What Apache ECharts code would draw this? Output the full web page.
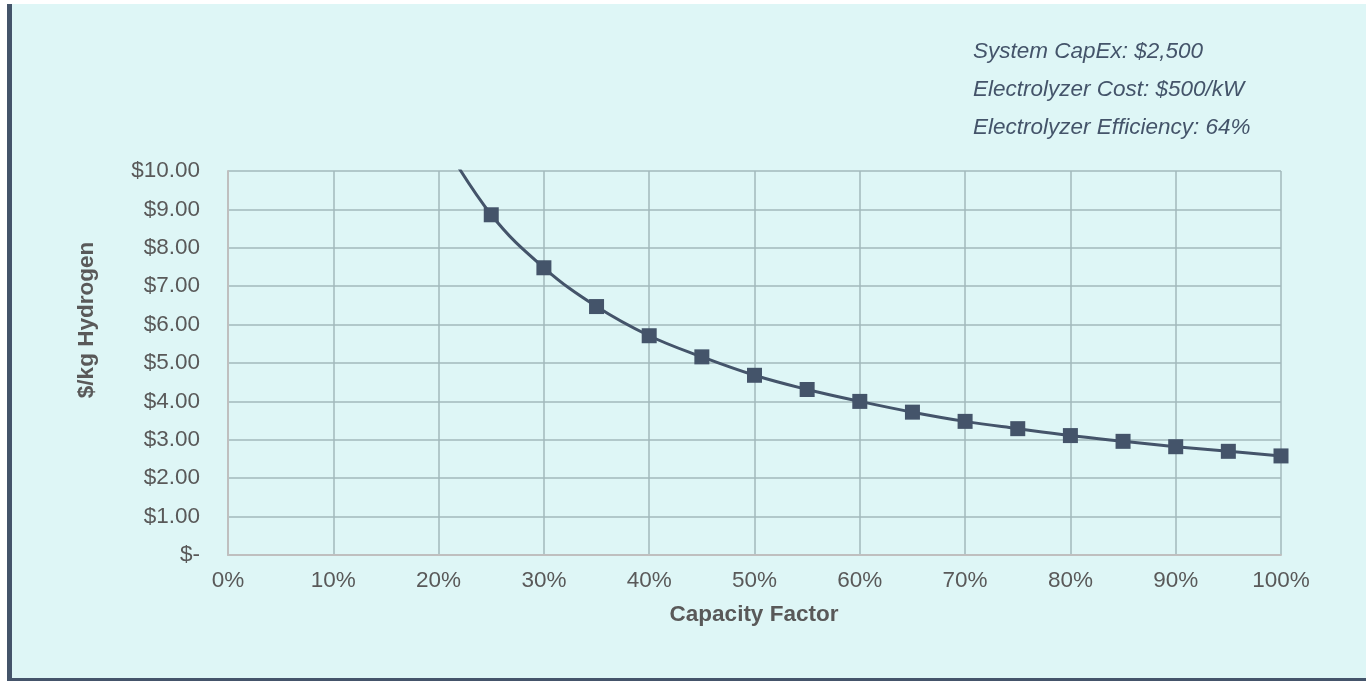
<!DOCTYPE html>
<html>
<head>
<meta charset="utf-8">
<script src="https://cdn.jsdelivr.net/npm/echarts@6/dist/echarts.min.js"></script>
<style>
html,body{margin:0;padding:0;background:#ffffff;}
#chart{width:1369px;height:681px;}
</style>
</head>
<body>
<div id="chart"></div>
<script>
const capacityFactor = [20, 25, 30, 35, 40, 45, 50, 55, 60, 65, 70, 75, 80, 85, 90, 95, 100];
const costPerKg = [10.95, 8.86, 7.48, 6.47, 5.71, 5.16, 4.68, 4.31, 4.00, 3.72, 3.48, 3.29, 3.11, 2.96, 2.82, 2.70, 2.58];
const xTicks = [0, 10, 20, 30, 40, 50, 60, 70, 80, 90, 100];
const yTicks = [0, 1, 2, 3, 4, 5, 6, 7, 8, 9, 10];
const notes = ['System CapEx: $2,500', 'Electrolyzer Cost: $500/kW', 'Electrolyzer Efficiency: 64%'];
const xTitle = 'Capacity Factor';
const yTitle = '$/kg Hydrogen';

const chart = echarts.init(document.getElementById('chart'));
const font = 'Liberation Sans, Arial, sans-serif';
const fs = 22.5;
const option = {
  backgroundColor: '#ffffff',
  animation: false,
  graphic: [
    { type: 'rect', z: -10, shape: { x: 7, y: 4, width: 1359, height: 677 }, style: { fill: '#def6f6' } },
    { type: 'rect', z: -9, shape: { x: 7, y: 4, width: 5, height: 677 }, style: { fill: '#44546a' } },
    { type: 'rect', z: -9, shape: { x: 7, y: 678, width: 1359, height: 3 }, style: { fill: '#44546a' } },
    ...notes.map((t, i) => ({
      type: 'text', x: 973, y: 52 + i * 38,
      style: { text: t, font: 'italic ' + fs + 'px ' + font, fill: '#44546a', verticalAlign: 'middle', align: 'left' }
    })),
    { type: 'text', x: 87, y: 320, rotation: Math.PI / 2,
      style: { text: yTitle, font: 'bold ' + fs + 'px ' + font, fill: '#595959', align: 'center', verticalAlign: 'middle' } },
    { type: 'text', x: 754, y: 615,
      style: { text: xTitle, font: 'bold ' + fs + 'px ' + font, fill: '#595959', align: 'center', verticalAlign: 'middle' } }
  ],
  grid: { left: 228, right: 88, top: 171, bottom: 126, containLabel: false },
  xAxis: {
    type: 'value', min: 0, max: 100, interval: 10,
    axisLine: { show: true, lineStyle: { color: '#bfbfbf', width: 2 } },
    axisTick: { show: false },
    axisLabel: { fontFamily: font, fontSize: fs, color: '#595959', margin: 14,
      formatter: v => v + '%' },
    splitLine: { show: true, lineStyle: { color: '#a2b8bb', width: 1.5 } }
  },
  yAxis: {
    type: 'value', min: 0, max: 10, interval: 1,
    axisLine: { show: true, lineStyle: { color: '#bfbfbf', width: 2 } },
    axisTick: { show: false },
    axisLabel: { fontFamily: font, fontSize: fs, color: '#595959', margin: 28,
      formatter: v => v === 0 ? '$-' : '$' + v.toFixed(2) },
    splitLine: { show: true, lineStyle: { color: '#a2b8bb', width: 1.5 } }
  },
  series: [{
    type: 'line',
    data: capacityFactor.map((x, i) => [x, costPerKg[i]]),
    smooth: 0.4,
    clip: true,
    symbol: 'rect',
    symbolSize: 15,
    lineStyle: { color: '#44546a', width: 3 },
    itemStyle: { color: '#44546a' }
  }]
};
chart.setOption(option);
</script>
</body>
</html>
